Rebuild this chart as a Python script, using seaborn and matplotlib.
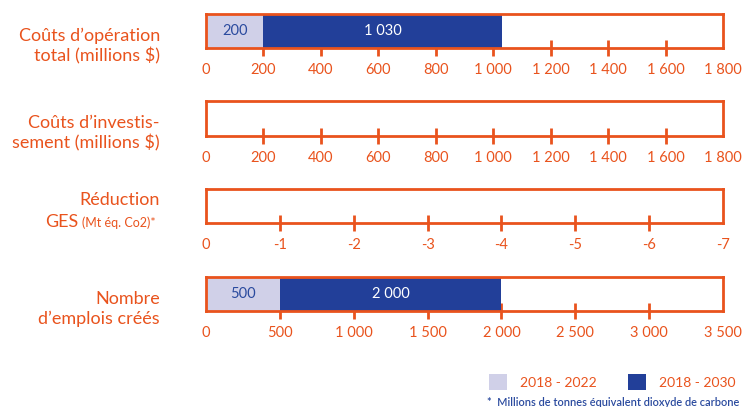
import matplotlib
matplotlib.use("Agg")
import matplotlib.pyplot as plt
from matplotlib.patches import Patch
import pandas as pd
import seaborn as sns

# ---- data ----
row_labels = ["Coûts d’opération\ntotal (millions $)",
              "Coûts d’investis-\nsement (millions $)",
              None,
              "Nombre\nd’emplois créés"]
val_2022 = [200, None, None, 500]      # 2018 - 2022
val_2030 = [1030, None, None, 2000]    # 2018 - 2030 (cumulative)
axis_max = [1800, 1800, -7, 3500]
axis_step = [200, 200, -1, 500]
legend_labels = ["2018 - 2022", "2018 - 2030"]
footnote = "*  Millions de tonnes équivalent dioxyde de carbone"

ORANGE = "#E9531D"
LIGHT = "#D0D0E8"
DARK = "#223F99"
NAVY = "#2A4A9E"

sns.set_theme(style="white")
plt.rcParams["font.family"] = ["Lato", "DejaVu Sans"]

W, H = 743, 407
fig = plt.figure(figsize=(W / 100, H / 100), dpi=100)

left_px, right_px = 206, 723
tops = [14, 101.5, 189, 277]
box_h = 34


def fmt(v):
    s = f"{abs(v):,}".replace(",", " ")
    return ("-" if v < 0 else "") + s


for i in range(4):
    ax = fig.add_axes([left_px / W, 1 - (tops[i] + box_h) / H,
                       (right_px - left_px) / W, box_h / H])

    if val_2030[i] is not None:
        df = pd.DataFrame({"row": ["r"], "v22": [val_2022[i]], "v30": [val_2030[i]]})
        sns.barplot(data=df, x="v30", y="row", orient="h", color=DARK,
                    saturation=1, width=1, linewidth=0, ax=ax)
        sns.barplot(data=df, x="v22", y="row", orient="h", color=LIGHT,
                    saturation=1, width=1, linewidth=0, ax=ax)
        ax.text(val_2022[i] / 2, 0, fmt(val_2022[i]), ha="center", va="center",
                color=NAVY, fontsize=10.5)
        ax.text((val_2022[i] + val_2030[i]) / 2, 0, fmt(val_2030[i]), ha="center",
                va="center", color="white", fontsize=10.5)

    ax.set_ylim(0.5, -0.5)
    ax.set_xlim(0, axis_max[i])
    ax.set_yticks([])
    ax.set_xlabel("")
    ax.set_ylabel("")

    n = round(axis_max[i] / axis_step[i])
    ticks = [k * axis_step[i] for k in range(n + 1)]
    ax.xaxis.remove_overlapping_locs = False
    ax.set_xticks(ticks)
    ax.set_xticklabels([fmt(t) for t in ticks])
    ax.set_xticks(ticks[1:-1], minor=True)
    ax.tick_params(axis="x", which="major", length=0, pad=11,
                   labelsize=10.5, labelcolor=ORANGE)
    ax.tick_params(axis="x", which="minor", bottom=True, direction="inout",
                   length=12, width=2, color=ORANGE)
    for sp in ax.spines.values():
        sp.set_color(ORANGE)
        sp.set_linewidth(2)
        sp.set_visible(True)

    # row labels
    if row_labels[i] is not None:
        fig.text(160 / W, 1 - (tops[i] + 32) / H, row_labels[i], ha="right",
                 va="center", color=ORANGE, fontsize=13, linespacing=1.25)

# GES row label with smaller unit part
fig.text(160 / W, 1 - 200 / H, "Réduction", ha="right", va="center",
         color=ORANGE, fontsize=13)
fig.text(78 / W, 1 - 222 / H, "GES", ha="right", va="center",
         color=ORANGE, fontsize=13)
fig.text(82 / W, 1 - 223 / H, "(Mt éq. Co2)*", ha="left", va="center",
         color=ORANGE, fontsize=9)

# legend
handles = [Patch(facecolor=LIGHT, edgecolor="none"),
           Patch(facecolor=DARK, edgecolor="none")]
fig.legend(handles, legend_labels, ncol=2, loc="center left",
           bbox_to_anchor=(489 / W, 1 - 382 / H), frameon=False,
           fontsize=10, labelcolor=ORANGE, handlelength=1.3, handleheight=1.3,
           handletextpad=0.9, columnspacing=2.3, borderaxespad=0, borderpad=0)

fig.text(487 / W, 1 - 402 / H, footnote, ha="left", va="center",
         color=NAVY, fontsize=7.9, fontweight="semibold")

fig.savefig("out.png", dpi=100)
